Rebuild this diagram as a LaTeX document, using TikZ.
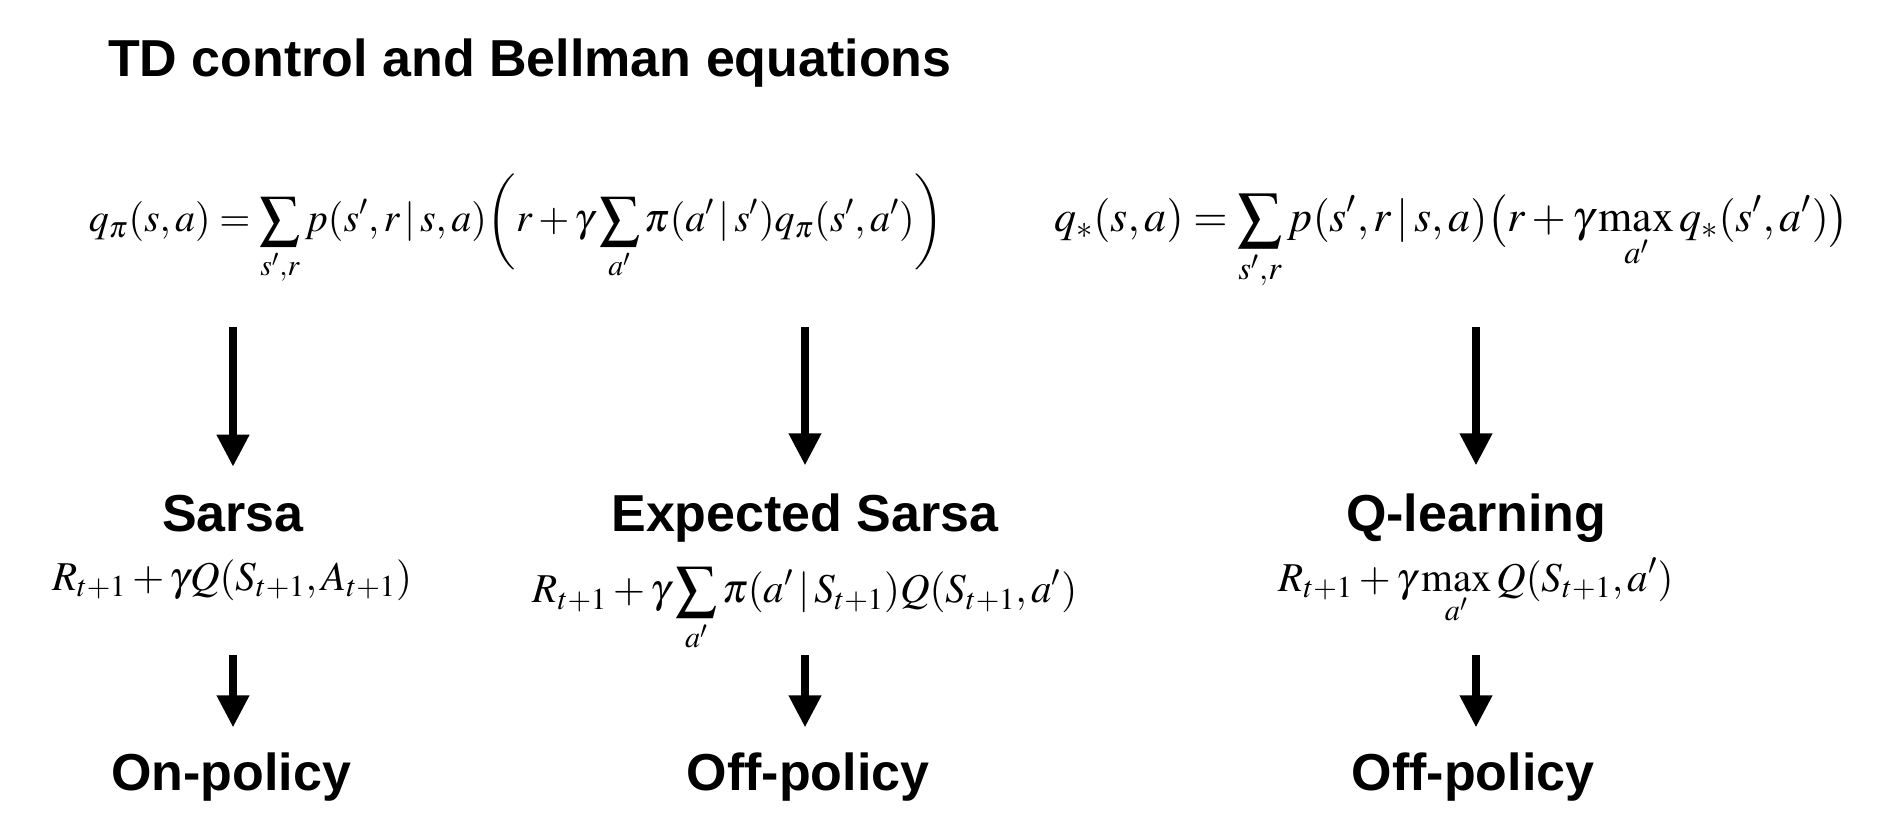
\documentclass[tikz,border=0pt]{standalone}
\usepackage{mathptmx}
\usepackage[no-math]{fontspec}
\setmainfont{Liberation Sans}
\usetikzlibrary{arrows.meta}

\begin{document}
\begin{tikzpicture}[x=0.5pt,y=-0.5pt,inner sep=0pt,outer sep=0pt,
heading/.style={font=\fontsize{26pt}{30pt}\selectfont\bfseries},
eqn/.style={font=\fontsize{20.5pt}{24pt}\selectfont},
bigarrow/.style={line width=3.65pt,-{Triangle[width=15.5pt,length=16pt]}}]

\useasboundingbox (0,0) rectangle (1877,838);

\draw (108,77) node[heading,anchor=base west] (title) {TD control and Bellman equations};

% Bellman equations
\draw (516.5,232) node[eqn,anchor=base,font=\fontsize{20pt}{24pt}\selectfont] (qpi) {$\displaystyle q_\pi(s,a)=\sum_{s',r}p(s',r\,|\,s,a)\biggl(r+\gamma\sum_{a'}\pi(a'\,|\,s')q_\pi(s',a')\biggr)$};
\draw (1451.5,232) node[eqn,anchor=base,font=\fontsize{22pt}{26pt}\selectfont] (qstar) {$\displaystyle q_*(s,a)=\sum_{s',r}p(s',r\,|\,s,a)\bigl(r+\gamma\max_{a'}q_*(s',a')\bigr)$};

% methods
\draw (233,532) node[heading,anchor=base] (sarsa) {Sarsa};
\draw (805,532) node[heading,anchor=base] (esarsa) {Expected Sarsa};
\draw (1476,532) node[heading,anchor=base] (qlearn) {Q-learning};

\draw (232,590) node[eqn,anchor=base] (sarsaeq) {$R_{t+1}+\gamma Q(S_{t+1},A_{t+1})$};
\draw (805,603) node[eqn,anchor=base] (esarsaeq) {$\displaystyle R_{t+1}+\gamma\sum_{a'}\pi(a'\,|\,S_{t+1})Q(S_{t+1},a')$};
\draw (1476,591) node[eqn,anchor=base] (qlearneq) {$\displaystyle R_{t+1}+\gamma\max_{a'}Q(S_{t+1},a')$};

\draw (231,790) node[heading,anchor=base] (onpol) {On-policy};
\draw (808,790) node[heading,anchor=base] (offpola) {Off-policy};
\draw (1473,790) node[heading,anchor=base] (offpolb) {Off-policy};

\draw[bigarrow,shorten <=47.5pt,shorten >=14.5pt] (qpi.base -| sarsa.north) -- (sarsa.north);
\draw[bigarrow,shorten <=47.5pt,shorten >=14.5pt] (qpi.base -| esarsa.north) -- (esarsa.north);
\draw[bigarrow,shorten <=47.5pt,shorten >=14.5pt] (qstar.base -| qlearn.north) -- (qlearn.north);

\draw[bigarrow,shorten <=32.5pt,shorten >=12.5pt] (sarsaeq.base -| sarsa) -- (onpol.north -| sarsa);
\draw[bigarrow,shorten <=26pt,shorten >=12.5pt] (esarsaeq.base -| esarsa) -- (offpola.north -| esarsa);
\draw[bigarrow,shorten <=32pt,shorten >=12.5pt] (qlearneq.base -| qlearn) -- (offpolb.north -| qlearn);

\end{tikzpicture}
\end{document}
